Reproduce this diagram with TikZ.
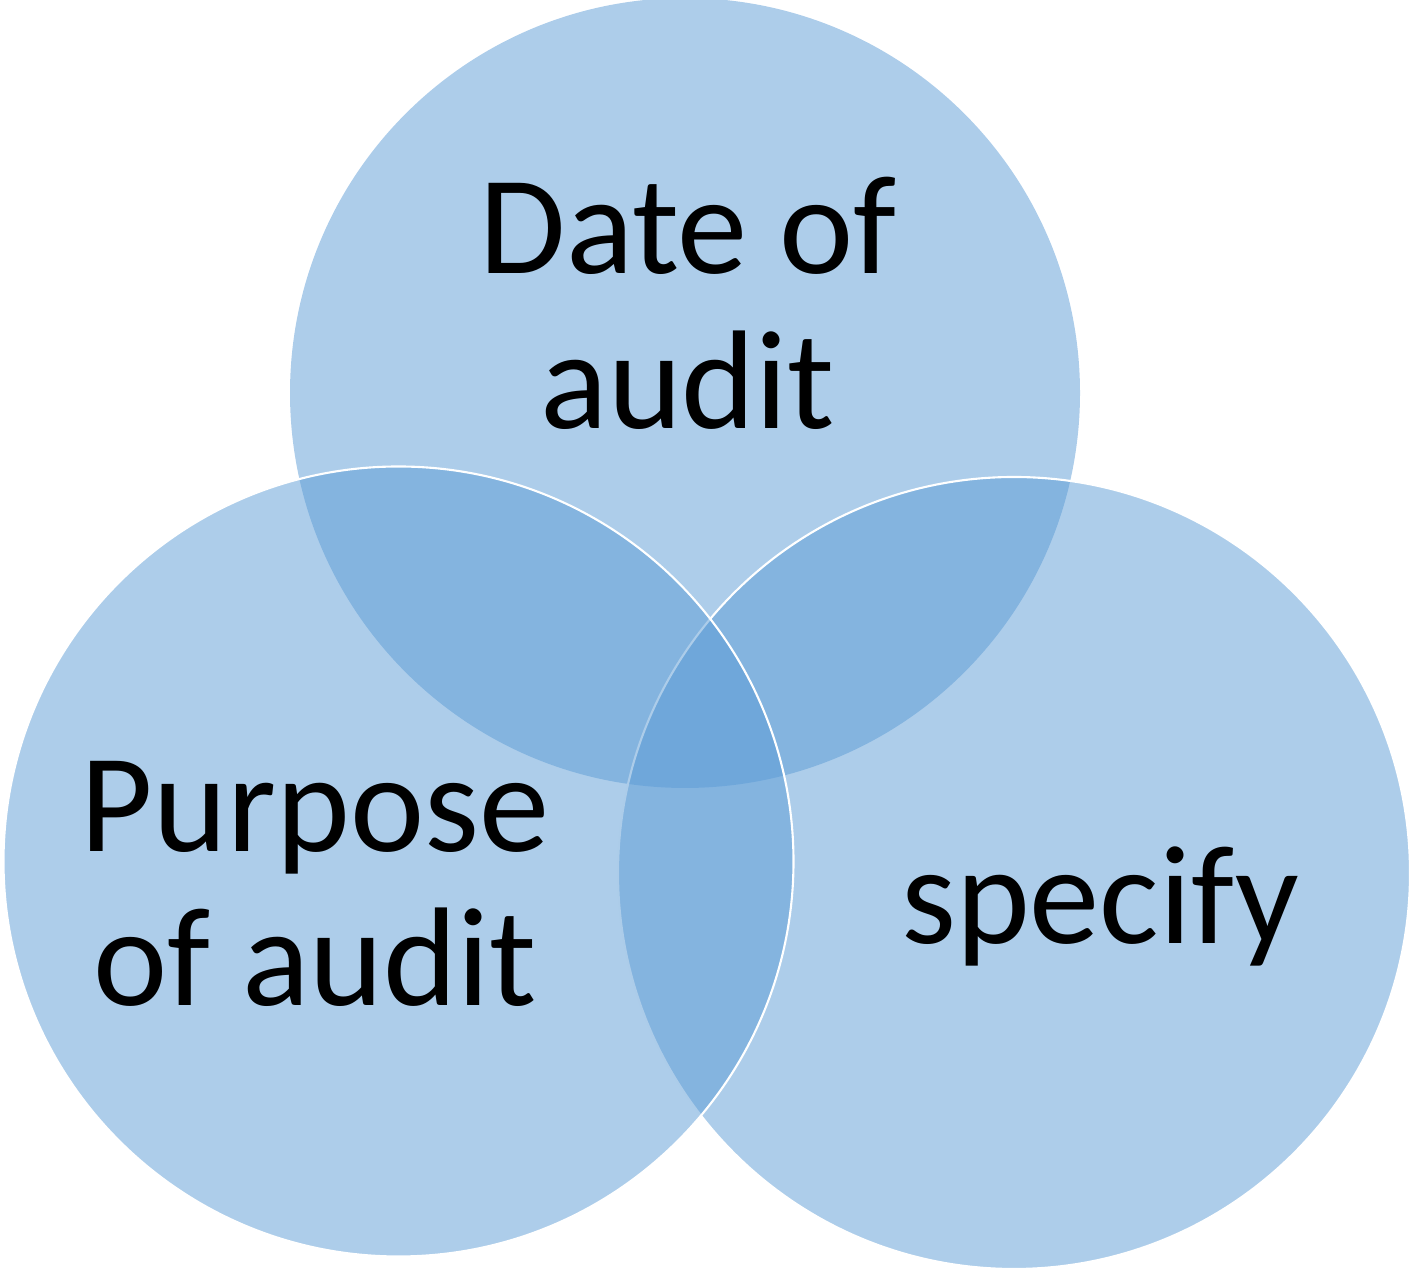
\documentclass[tikz,border=0pt]{standalone}
\usepackage{fontspec}
\setmainfont{Carlito}
\usepackage{tikz}
\usetikzlibrary{positioning}
\definecolor{vennblue}{HTML}{5B9BD5}
\tikzset{
    venn/.style={fill=vennblue, fill opacity=0.5, draw=white, line width=0.6pt},
    vennlabel/.style={align=center, font=\fontsize{40}{44}\selectfont, text=black}
}

\begin{document}
\begin{tikzpicture}
\useasboundingbox (0,0) rectangle (14.09,12.68);
% circles: top first, then right, then left on top
\fill[fill=vennblue, fill opacity=0.5] (6.85,8.75) circle (3.95);
\draw[venn] (10.14,3.95) circle (3.96);
\draw[venn] (3.985,4.065) circle (3.95);
% labels
\node[vennlabel] (date) at (6.88,9.645) {Date of\\audit};
\node[vennlabel] (purpose) at (3.15,3.84) {Purpose\\of audit};
\node[vennlabel] (spec) at (11.0,3.62) {specify};
\end{tikzpicture}
\end{document}
